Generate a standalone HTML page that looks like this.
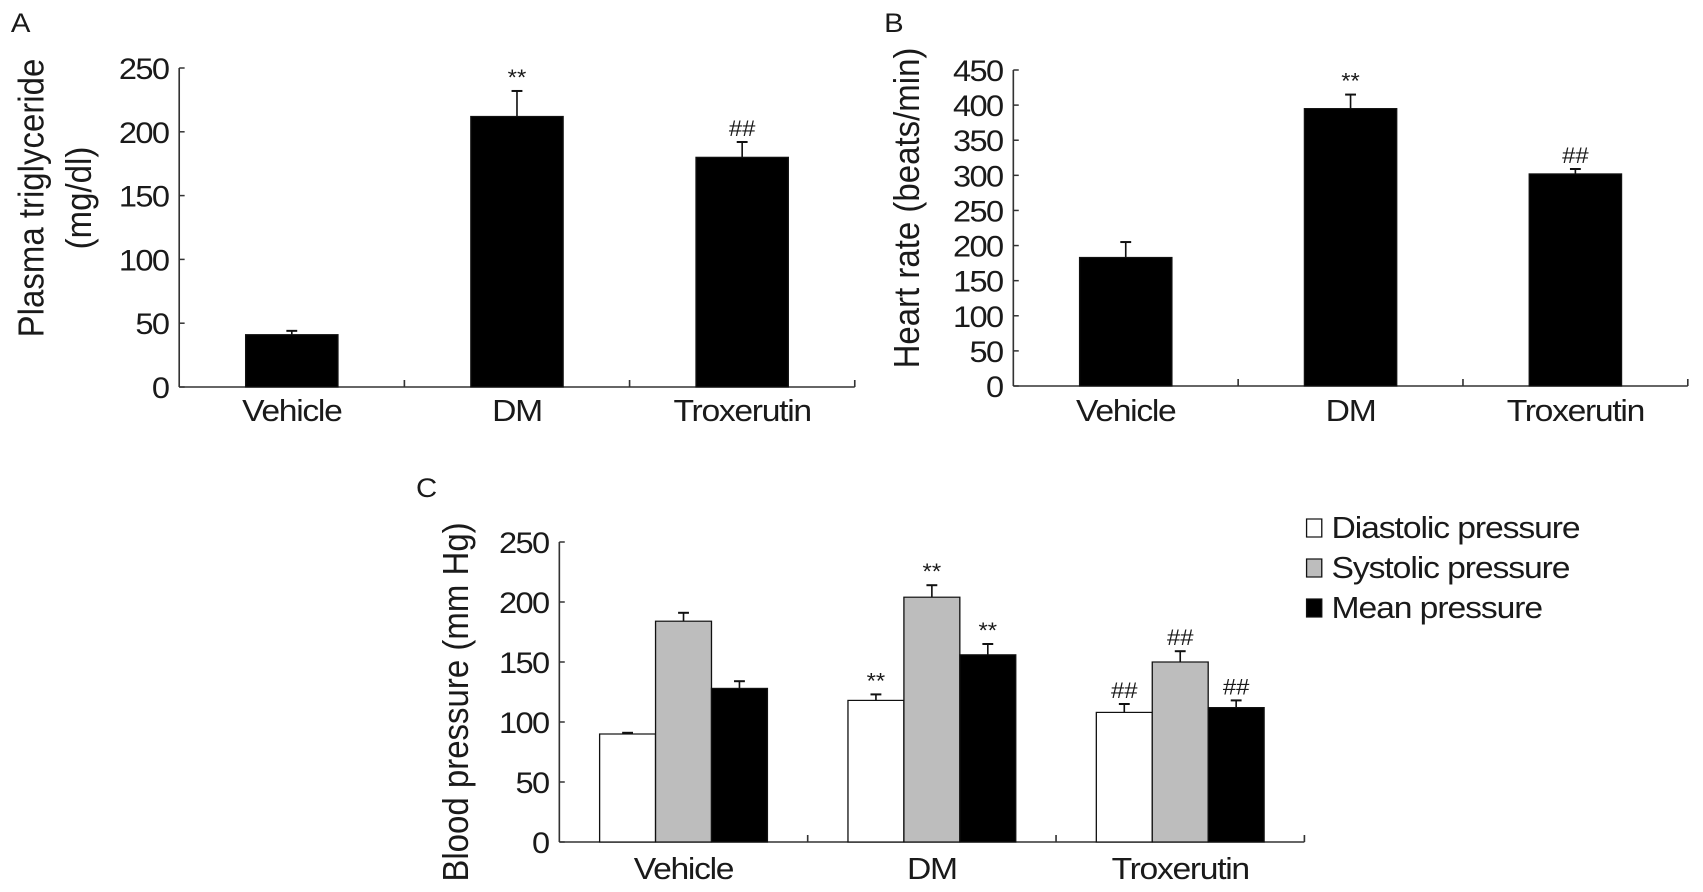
<!DOCTYPE html>
<html><head><meta charset="utf-8"><style>
html,body{margin:0;padding:0;background:#fff;}
svg{display:block;}
text{font-family:"Liberation Sans",Arial,sans-serif;fill:#1a1a1a;}
</style></head><body>
<svg id="fig" width="1703" height="892" viewBox="0 0 1568 892" preserveAspectRatio="none" xmlns="http://www.w3.org/2000/svg"></svg>
<script>
// Panel A data
const catsA = ["Vehicle","DM","Troxerutin"];
const valsA = [41,212,180];
const errsA = [3,20,12];
const marksA = ["","**","##"];
const ticksA = [0,50,100,150,200,250];
// Panel B data
const catsB = ["Vehicle","DM","Troxerutin"];
const valsB = [183,395,302];
const errsB = [22,20,7];
const marksB = ["","**","##"];
const ticksB = [0,50,100,150,200,250,300,350,400,450];
// Panel C data
const catsC = ["Vehicle","DM","Troxerutin"];
const seriesC = ["Diastolic pressure","Systolic pressure","Mean pressure"];
const diastolic = [90,118,108];
const systolic = [184,204,150];
const meanP = [128,156,112];
const diastolicErr = [1,5,7];
const systolicErr = [7,10,9];
const meanErr = [6,9,6];
const diastolicMarks = ["","**","##"];
const systolicMarks = ["","**","##"];
const meanMarks = ["","**","##"];
const ticksC = [0,50,100,150,200,250];

const NS="http://www.w3.org/2000/svg";
const svg=document.getElementById('fig');
function el(tag,attrs,parent){const e=document.createElementNS(NS,tag);for(const k in attrs)e.setAttribute(k,attrs[k]);(parent||svg).appendChild(e);return e;}
function txt(s,attrs,parent){const t=el('text',attrs,parent);t.textContent=s;return t;}

function panel(o){
  const g=el('g',{});
  
  
  const y=v=>o.y0-(v/o.max)*(o.y0-o.yTop);
  const ax=el('line',{x1:o.x0,y1:o.yTop,x2:o.x0,y2:o.y0,stroke:'#333','stroke-width':1.5},g);
  
  const bx=el('line',{x1:o.x0,y1:o.y0,x2:o.xEnd,y2:o.y0,stroke:'#333','stroke-width':1.5},g);
  
  o.ticks.forEach(t=>{
    el('line',{x1:o.x0,y1:y(t),x2:o.x0+5,y2:y(t),stroke:'#333','stroke-width':1.5},g);
    const tl=txt(String(t),{x:o.x0-10,y:y(t)+11,'font-size':30,'letter-spacing':-1.5,'text-anchor':'end'},g);
    
  });
  const n=o.cats.length, gw=(o.xEnd-o.x0)/n;
  for(let i=1;i<=n;i++){const xx=o.x0+gw*i;el('line',{x1:xx,y1:o.y0,x2:xx,y2:o.y0-7,stroke:'#333','stroke-width':1.5},g);}
  o.cats.forEach((c,i)=>{
    const cx=o.x0+gw*(i+0.5);
    const cl=txt(c,{x:cx,y:o.labelY,'font-size':31,'letter-spacing':-1.2,'text-anchor':'middle'},g);
    
    const ns=o.series.length, bw=o.barW, tot=bw*ns;
    o.series.forEach((s,j)=>{
      const x=cx-tot/2+j*bw, v=s.vals[i], e=s.errs[i];
      const r=el('rect',{x:x,y:y(v),width:bw,height:o.y0-y(v),fill:s.fill,stroke:'#111','stroke-width':1.2},g);
      
      
      const ex=x+bw/2;
      el('line',{x1:ex,y1:y(v),x2:ex,y2:y(v+e),stroke:'#111','stroke-width':1.5},g);
      el('line',{x1:ex-5,y1:y(v+e),x2:ex+5,y2:y(v+e),stroke:'#111','stroke-width':2},g);
      if(s.marks[i]){const m=txt(s.marks[i],{x:ex,y:y(v+e)-6,'font-size':22,'text-anchor':'middle',fill:'#444'},g);
        }
    });
  });
  const yt=el('text',{transform:`translate(${o.titleX},${o.titleY}) rotate(-90)`,'font-size':33,'text-anchor':'middle'},g);
  
  o.title.forEach((line,k)=>{const ts=el('tspan',{x:0,dy:k?44:0},yt);ts.textContent=line;});
  const pl=txt(o.letter,{x:o.letterX,y:o.letterY,'font-size':27},g);
  
}

panel({name:'panel-a-triglyceride',cats:catsA,x0:165,xEnd:787,yTop:68,y0:387,max:250,ticks:ticksA,barW:85,labelY:421,
  series:[{key:'triglyceride',vals:valsA,errs:errsA,marks:marksA,fill:'#000'}],
  title:['Plasma triglyceride','(mg/dl)'],titleX:40,titleY:198,letter:'A',letterX:10,letterY:32});
panel({name:'panel-b-heart-rate',cats:catsB,x0:933,xEnd:1554,yTop:70,y0:386,max:450,ticks:ticksB,barW:85,labelY:421,
  series:[{key:'heart-rate',vals:valsB,errs:errsB,marks:marksB,fill:'#000'}],
  title:['Heart rate  (beats/min)'],titleX:846,titleY:208,letter:'B',letterX:814,letterY:32});
panel({name:'panel-c-blood-pressure',cats:catsC,x0:515,xEnd:1201,yTop:542,y0:842,max:250,ticks:ticksC,barW:51.5,labelY:879,
  series:[{key:'diastolic',vals:diastolic,errs:diastolicErr,marks:diastolicMarks,fill:'#fff'},
          {key:'systolic',vals:systolic,errs:systolicErr,marks:systolicMarks,fill:'#bdbdbd'},
          {key:'mean',vals:meanP,errs:meanErr,marks:meanMarks,fill:'#000'}],
  title:['Blood pressure (mm Hg)'],titleX:431,titleY:702,letter:'C',letterX:383,letterY:497});

// legend
const fills=['#fff','#bdbdbd','#000'];
const lg=el('g',{});


seriesC.forEach((s,i)=>{
  const cy=527+i*40;
  const b=el('rect',{x:1203,y:cy-8,width:14,height:18,fill:fills[i],stroke:'#111','stroke-width':1.2},lg);
  
  
  const t=txt(s,{x:1226,y:cy+11,'font-size':31,'letter-spacing':-1},lg);
  
  
});
</script>
</body></html>
